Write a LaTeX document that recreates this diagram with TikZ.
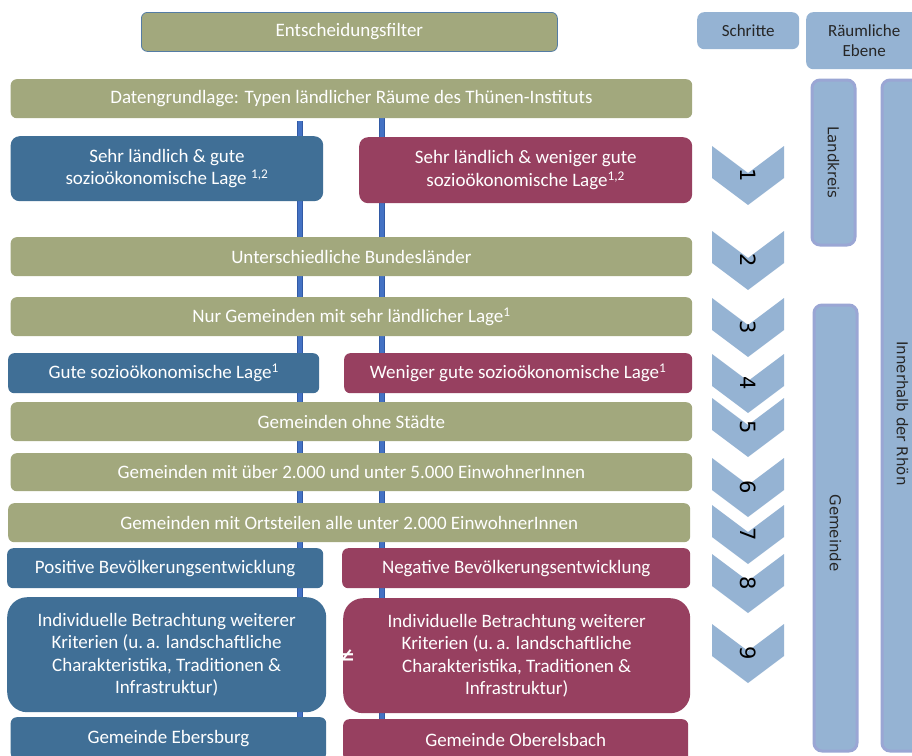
\documentclass[tikz,border=0pt]{standalone}
\usepackage{fontspec}
\setmainfont{Carlito}
\newfontfamily\dvs{DejaVu Sans}
\usetikzlibrary{backgrounds}
\definecolor{cOlive}{RGB}{162,168,125}
\definecolor{cBlue}{RGB}{64,111,150}
\definecolor{cRed}{RGB}{151,64,96}
\definecolor{cLight}{RGB}{149,179,211}
\definecolor{cColBorder}{RGB}{154,166,212}
\definecolor{cLine}{RGB}{68,114,196}
\definecolor{cLineDark}{RGB}{50,90,165}
\definecolor{cEfBorder}{RGB}{84,124,164}
\tikzset{
  base/.style={anchor=north west, inner sep=0pt, align=center, text=white,
    font=\fontsize{19}{22.5}\selectfont, rounded corners=6pt},
  olivebox/.style={base, fill=cOlive},
  bluebox/.style={base, fill=cBlue},
  redbox/.style={base, fill=cRed},
  headbox/.style={base, fill=cLight, text=black!85, font=\fontsize{17}{20}\selectfont, rounded corners=7pt},
  colbox/.style={anchor=north west, inner sep=0pt, fill=cLight, draw=cColBorder, line width=3pt, rounded corners=8pt},
  coltext/.style={text=black!85, font=\dvs\fontsize{15}{18}\selectfont, rotate=-90},
  chevshape/.style={fill=cLight},
  digit/.style={text=black, font=\dvs\fontsize{21}{21}\selectfont, rotate=-90},
  vlineouter/.style={draw=cLineDark, line width=6pt},
  vlineinner/.style={draw=cLine, line width=4pt},
}
\begin{document}
\begin{tikzpicture}[x=1pt,y=-1pt]
\useasboundingbox (0,0) rectangle (912,755);

% header
\node[olivebox, draw=cEfBorder, line width=0.8pt, minimum width=416pt, minimum height=39pt] (ef) at (141,12) {Entscheidungsfilter};
\node[headbox, minimum width=102pt, minimum height=37pt] (sch) at (697,12) {Schritte};
\node[headbox, minimum width=116pt, minimum height=57pt] (re) at (806,12) {Räumliche\\Ebene};

% main boxes
\node[olivebox, minimum width=681.5pt, minimum height=39pt] (dg) at (10.5,79) {Datengrundlage: Typen ländlicher Räume des Thünen-Instituts};
\node[bluebox, rounded corners=9pt, minimum width=312.5pt, minimum height=65pt] (b1) at (10.5,136) {Sehr ländlich \& gute\\sozioökonomische Lage \textsuperscript{1,2}};
\node[redbox, rounded corners=9pt, minimum width=333pt, minimum height=66pt] (r1) at (359,137) {Sehr ländlich \& weniger gute\\sozioökonomische Lage\textsuperscript{1,2}};
\node[olivebox, minimum width=681.5pt, minimum height=39pt] (ub) at (10.5,237) {Unterschiedliche Bundesländer};
\node[olivebox, minimum width=681.5pt, minimum height=39pt] (ng) at (10.5,297) {Nur Gemeinden mit sehr ländlicher Lage\textsuperscript{1}};
\node[bluebox, minimum width=311pt, minimum height=40pt] (b4) at (8,353) {Gute sozioökonomische Lage\textsuperscript{1}};
\node[redbox, minimum width=348pt, minimum height=40pt] (r4) at (344,353) {Weniger gute sozioökonomische Lage\textsuperscript{1}};
\node[olivebox, minimum width=681.5pt, minimum height=39pt] (os) at (10.5,402) {Gemeinden ohne Städte};
\node[olivebox, minimum width=681.5pt, minimum height=38pt] (ue) at (10.5,453) {Gemeinden mit über 2.000 und unter 5.000 EinwohnerInnen};
\node[olivebox, minimum width=682pt, minimum height=39pt] (ot) at (8,503) {Gemeinden mit Ortsteilen alle unter 2.000 EinwohnerInnen};
\node[bluebox, minimum width=316pt, minimum height=40pt] (b8) at (7,548) {Positive Bevölkerungsentwicklung};
\node[redbox, minimum width=348pt, minimum height=40pt] (r8) at (342,548) {Negative Bevölkerungsentwicklung};
\node[bluebox, rounded corners=20pt, minimum width=319pt, minimum height=115pt] (b9) at (7,597) {Individuelle Betrachtung weiterer\\Kriterien (u.\,a. landschaftliche\\Charakteristika, Traditionen \&\\Infrastruktur)};
\node[redbox, rounded corners=20pt, minimum width=347pt, minimum height=115pt] (r9) at (343,598) {Individuelle Betrachtung weiterer\\Kriterien (u.\,a. landschaftliche\\Charakteristika, Traditionen \&\\Infrastruktur)};
\node[bluebox, minimum width=315.5pt, minimum height=42pt] (eb) at (10.5,717) {Gemeinde Ebersburg};
\node[redbox, minimum width=345pt, minimum height=42pt] (ob) at (343,719) {Gemeinde Oberelsbach};

\node[text=white, font=\dvs\fontsize{26}{26}\selectfont, inner sep=0pt] (ne) at (345,658) {≠};

% vertical connector lines behind the boxes
\coordinate (lx) at (300,0);
\coordinate (rx) at (382,0);
\begin{scope}[on background layer]
  \fill[white] (0,0) rectangle (912,755);
  \draw[vlineouter] ([yshift=-3pt]dg.south -| lx) -- (eb.north -| lx);
  \draw[vlineinner] ([yshift=-3pt]dg.south -| lx) -- (eb.north -| lx);
  \draw[vlineouter] (dg.south -| rx) -- (ob.north -| rx);
  \draw[vlineinner] (dg.south -| rx) -- (ob.north -| rx);
\end{scope}

% step chevrons
\foreach \n/\t in {1/146,2/231,3/298,4/354,5/398,6/458,7/505,8/554,9/624}{
  \fill[chevshape] (712,\t) -- (748,\t+27) -- (784,\t) -- (784,\t+32) -- (748,\t+59) -- (712,\t+32) -- cycle;
  \node[digit] (s\n) at (748,\t+29) {\n};
}

% spatial level columns
\node[colbox, minimum width=43pt, minimum height=165pt] (lk) at (810.5,78.5) {};
\node[coltext] (lkt) at (lk.center) {Landkreis};
\node[colbox, minimum width=43pt, minimum height=446pt] (gm) at (812.5,303.5) {};
\node[coltext] (gmt) at ([yshift=-5pt]gm.center) {Gemeinde};
\node[colbox, minimum width=41pt, minimum height=671pt] (ir) at (880.5,78.5) {};
\node[coltext] (irt) at ([yshift=2pt]ir.center) {Innerhalb der Rhön};
\end{tikzpicture}
\end{document}
